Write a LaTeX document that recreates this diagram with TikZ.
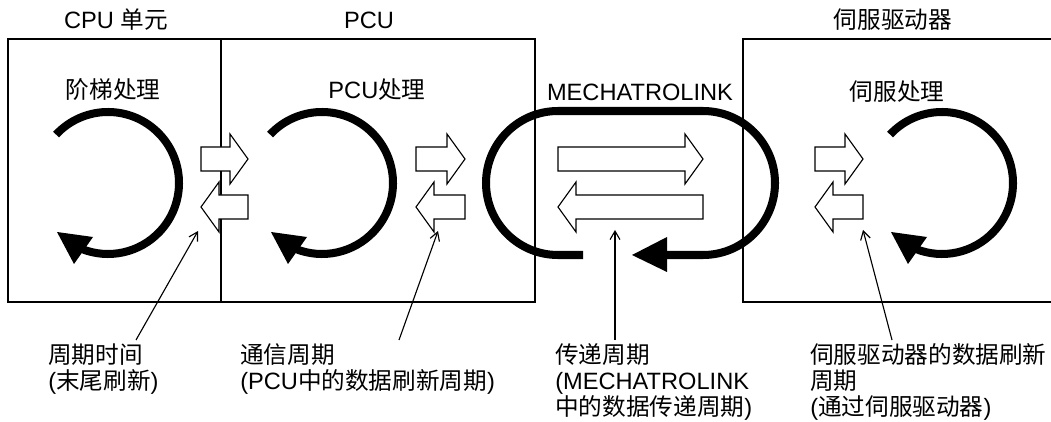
\documentclass[tikz,border=0pt]{standalone}
\usepackage{fontspec}
\setmainfont{Liberation Sans}
\newfontfamily\cjk{Noto Sans CJK SC}
\newcommand{\zh}[1]{{\cjk #1}}
\usetikzlibrary{arrows.meta,calc}

\begin{document}
\begin{tikzpicture}[x=0.025cm,y=0.025cm,
  every node/.style={font=\fontsize{16.8}{18.6}\selectfont},
  frame/.style={line width=1.1pt},
  cycleline/.style={line width=5.7pt},
  blockarrow/.style={draw,fill=white,line width=0.8pt},
  note/.style={anchor=north west,align=left,inner sep=0pt},
  pointer/.style={line width=0.8pt,-{Straight Barb[length=6pt,width=7pt]}},
  pics/fatarrow/.style={code={
    \draw[blockarrow] (0,-12) -- (#1-18,-12) -- (#1-18,-25) -- (#1,0)
      -- (#1-18,25) -- (#1-18,12) -- (0,12) -- cycle;}}]
  \useasboundingbox (0,0) rectangle (1051,421);
  % units
  \draw[frame] (8,119) rectangle (535,382);
  \draw[frame] (221,119) -- (221,382);
  \draw[frame] (1051,382) -- (743,382) -- (743,119) -- (1051,119);
  \node (cpu) at (116,401) {CPU \zh{单元}};
  \node (pcu) at (369,401) {PCU};
  \node (servo) at (893,401) {\zh{伺服驱动器}};
  \node (ladder) at (113,331) {\zh{阶梯处理}};
  \node (pcuproc) at (377,331) {PCU\zh{处理}};
  \node (mlink) at (640,329) {MECHATROLINK};
  \node (servoproc) at (897,329) {\zh{伺服处理}};
  % processing cycles
  \foreach \cx in {108,322,942} {
    \draw[cycleline] (\cx,238) ++(137:71) arc[start angle=137,end angle=-112,radius=71];
    \fill (\cx-51,189) -- (\cx-15,184) -- (\cx-34,157) -- cycle;
  }
  % transmission loop
  \draw[cycleline] (583,166) -- (558,166) arc[start angle=270,end angle=90,radius=72]
    -- (703,310) arc[start angle=90,end angle=-90,radius=72] -- (667,166);
  \fill (667,184) -- (667,149) -- (632,166) -- cycle;
  % data exchange
  \foreach \x/\len in {201/47,416/49,815/48,558/145} \pic at (\x,262) {fatarrow=\len};
  \foreach \x/\len in {248/47,465/49,863/48,703/145} \pic[rotate=180] at (\x,214) {fatarrow=\len};
  % notes
  \node[note] (cycletime) at (48,78) {\zh{周期时间}\\(\zh{末尾刷新})};
  \node[note] (commcycle) at (240,78) {\zh{通信周期}\\(PCU\zh{中的数据刷新周期})};
  \node[note] (transcycle) at (555,78) {\zh{传递周期}\\(MECHATROLINK\\\zh{中的数据传递周期})};
  \node[note] (servocycle) at (810,78) {\zh{伺服驱动器的数据刷新}\\\zh{周期}\\(\zh{通过伺服驱动器})};
  \coordinate (tip1) at (198,190);
  \coordinate (tip2) at (438,190);
  \coordinate (tip3) at (615,191);
  \coordinate (tip4) at (863,191);
  \draw[pointer] ($(cycletime.north west)+(88,3)$) -- (tip1);
  \draw[pointer] ($(commcycle.north west)+(159,3)$) -- (tip2);
  \draw[pointer] ($(transcycle.north west)+(60,3)$) -- (tip3);
  \draw[pointer] ($(servocycle.north west)+(82,3)$) -- (tip4);
\end{tikzpicture}
\end{document}
